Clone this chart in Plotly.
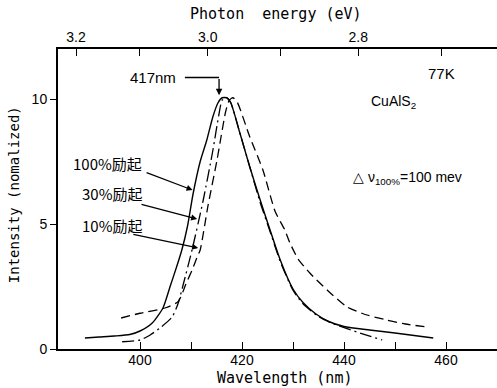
import plotly.graph_objects as go

# --- data ---
wl_100 = [389.2, 392, 395, 398, 400, 402.4, 404.5, 405.9, 407.2, 408.2, 409.3, 410.4, 411.8,
          413.1, 414.3, 415.3, 416.1, 417.0, 417.8, 419.5, 421.5, 423.5, 425.5, 427.5, 430,
          432, 434.5, 437, 440, 445, 450, 457.5]
int_100 = [0.44, 0.48, 0.52, 0.58, 0.72, 1.04, 1.64, 2.5, 3.3, 3.96, 4.9, 6.2, 7.5,
           8.36, 9.3, 9.85, 10.05, 10.05, 9.85, 8.7, 7.3, 6.0, 4.76, 3.56, 2.4,
           1.85, 1.4, 1.1, 0.9, 0.76, 0.64, 0.44]

wl_30 = [396.5, 400, 402, 403.9, 406.3, 407.5, 408.5, 410.2, 412.4, 414.3, 415.4, 416.1,
         417.0, 417.8, 419.5, 421.5, 423.5, 425.5, 427.5, 430, 432, 435, 437.8, 442.5, 447.5]
int_30 = [0.29, 0.36, 0.56, 0.84, 1.28, 1.84, 2.6, 3.96, 5.96, 7.96, 9.3, 9.95,
          10.05, 9.85, 8.7, 7.3, 5.9, 4.7, 3.5, 2.35, 1.8, 1.3, 1.02, 0.68, 0.36]

wl_10 = [396.3, 400, 404.9, 407.5, 409.0, 410.3, 411.2, 411.8, 413.3, 415.1, 415.9, 416.8,
         417.5, 418.2, 419.0, 421.5, 424.1, 426.5, 428.4, 429.4, 431, 433.3, 436.7, 440.6,
         444.5, 448.4, 452, 456.3]
int_10 = [1.24, 1.43, 1.64, 1.9, 2.6, 3.2, 3.68, 3.96, 5.7, 7.56, 8.5, 9.5,
          9.95, 10.05, 9.9, 8.5, 7.16, 5.5, 4.76, 4.24, 3.6, 3.04, 2.36, 1.68,
          1.36, 1.16, 1.0, 0.88]

wl_ticks = [400, 410, 420, 430, 440, 450, 460]
wl_labels = ["400", "", "420", "", "440", "", "460"]
ev_ticks = [3.2, 3.1, 3.0, 2.9, 2.8, 2.7]
ev_labels = ["3.2", "", "3.0", "", "2.8", ""]
int_ticks = [0, 5, 10]

HC = 1239.84
ev_pos = [HC / e for e in ev_ticks]

XR = [383.92, 470.0]
YR = [0, 12]

fig = go.Figure()
fig.add_trace(go.Scatter(x=wl_100, y=int_100, mode="lines", line=dict(color="black", width=1.4, shape="spline", smoothing=0.6), showlegend=False))
fig.add_trace(go.Scatter(x=wl_30, y=int_30, mode="lines", line=dict(color="black", width=1.3, dash="12px,4px,2px,4px", shape="spline", smoothing=0.6), showlegend=False))
fig.add_trace(go.Scatter(x=wl_10, y=int_10, mode="lines", line=dict(color="black", width=1.3, dash="9px,5px", shape="spline", smoothing=0.6), showlegend=False))
fig.add_trace(go.Scatter(x=[XR[0]], y=[0], xaxis="x2", mode="markers", marker=dict(opacity=0), showlegend=False, hoverinfo="skip"))

tickfont = dict(family="Liberation Sans, Arial", size=14, color="black")
fig.update_layout(
    width=497, height=388,
    margin=dict(l=58, r=0, t=49, b=39),
    plot_bgcolor="white", paper_bgcolor="white",
    xaxis=dict(range=XR, tickvals=wl_ticks, ticktext=wl_labels, ticks="inside", ticklen=7,
               tickcolor="black", showline=True, linecolor="black", linewidth=2,
               showgrid=False, zeroline=False, tickfont=tickfont, ticklabelstandoff=-3),
    xaxis2=dict(range=XR, overlaying="x", side="top", anchor="y", tickvals=ev_pos, ticktext=ev_labels,
                ticks="inside", ticklen=7, tickcolor="black", showline=True, linecolor="black",
                linewidth=1.5, showgrid=False, zeroline=False, tickfont=tickfont),
    yaxis=dict(range=YR, tickvals=int_ticks, ticks="outside", ticklen=6, tickcolor="black",
               showline=True, linecolor="black", linewidth=2, showgrid=False, zeroline=False,
               tickfont=tickfont),
)

# paper coords: plot area is 439 px wide, 300 px tall
mono = dict(family="DejaVu Sans Mono", size=15, color="black")
ann = []
ann.append(dict(xref="paper", yref="paper", x=0.497, y=1.117, xanchor="center", yanchor="middle",
                text="Photon  energy (eV)", showarrow=False, font=mono))
ann.append(dict(xref="paper", yref="paper", x=0.515, y=-0.097, xanchor="center", yanchor="middle",
                text="Wavelength (nm)", showarrow=False, font=mono))
ann.append(dict(xref="paper", yref="paper", x=-0.10, y=0.513, xanchor="center", yanchor="middle",
                text="Intensity (nomalized)", textangle=-90, showarrow=False,
                font=dict(family="DejaVu Sans Mono", size=14, color="black")))

sans = dict(family="Liberation Sans, Arial", size=15, color="black")
ann.append(dict(x=402.6, y=10.86, text="417nm", showarrow=False, font=sans))
ann.append(dict(x=415.5, y=10.15, ax=415.5, ay=10.86, axref="x", ayref="y", text="", showarrow=True, arrowhead=2, arrowsize=1, arrowwidth=1.3, arrowcolor="black"))
ann.append(dict(x=459.2, y=11.04, text="77K", showarrow=False, font=dict(family="Liberation Sans, Arial", size=15, color="black")))
ann.append(dict(x=449.8, y=9.88, text="CuAlS<sub>2</sub>", showarrow=False, font=dict(family="Liberation Sans, Arial", size=14, color="black")))
ann.append(dict(x=452.5, y=6.84, text="△ ν<sub>100%</sub>=100 mev", showarrow=False, font=dict(family="Liberation Sans, Arial", size=14, color="black")))

jp = dict(family="Noto Sans CJK JP", size=15, color="black")
ann.append(dict(x=393.6, y=7.44, text="100%励起", showarrow=False, font=jp))
ann.append(dict(x=394.5, y=6.24, text="30%励起", showarrow=False, font=jp))
ann.append(dict(x=394.5, y=4.96, text="10%励起", showarrow=False, font=jp))
ann.append(dict(x=410.3, y=6.36, ax=401.0, ay=7.08, axref="x", ayref="y", text="", showarrow=True, arrowhead=2, arrowwidth=1.2, arrowcolor="black"))
ann.append(dict(x=411.2, y=5.2, ax=400.0, ay=5.8, axref="x", ayref="y", text="", showarrow=True, arrowhead=2, arrowwidth=1.2, arrowcolor="black"))
ann.append(dict(x=411.4, y=4.04, ax=398.4, ay=4.6, axref="x", ayref="y", text="", showarrow=True, arrowhead=2, arrowwidth=1.2, arrowcolor="black"))
fig.update_layout(annotations=ann)

fig.add_shape(type="line", x0=408.8, y0=10.86, x1=415.5, y1=10.86, line=dict(color="black", width=1.3))

fig.write_html("out.html", config={"displayModeBar": False},
               post_script="document.body.style.margin='0';document.body.style.overflow='hidden';")
